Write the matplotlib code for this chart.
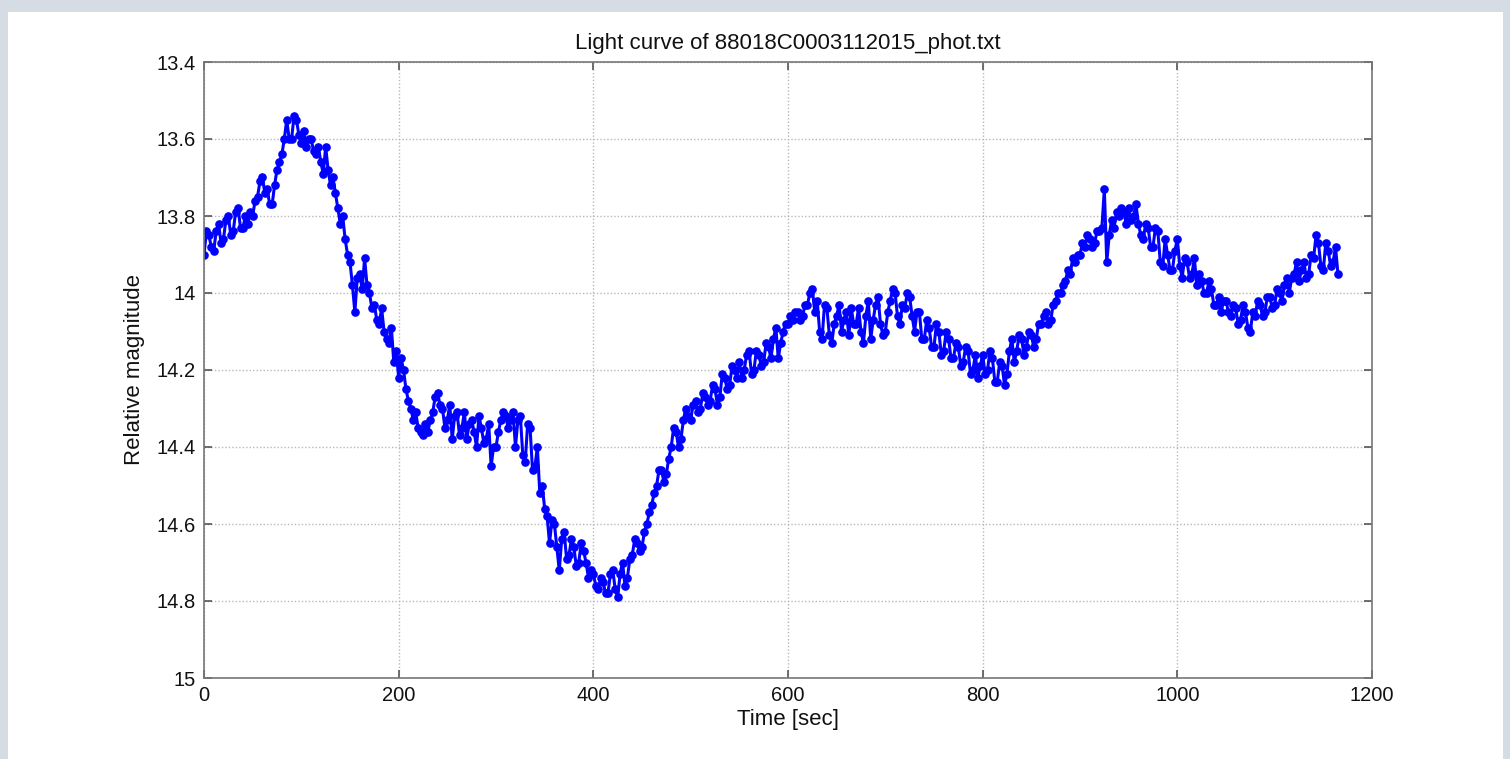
import matplotlib
matplotlib.use("Agg")
import matplotlib.pyplot as plt
from matplotlib.patches import Rectangle
from matplotlib.ticker import FuncFormatter

# Relative magnitude, sampled every 2.5 seconds starting at t = 0
magnitude = [
    13.90, 13.84, 13.85, 13.88, 13.89, 13.84, 13.82, 13.87, 13.86, 13.81, 13.80, 13.85, 13.84, 13.79, 13.78, 13.83, 13.83, 13.80, 13.82, 13.79,
    13.80, 13.76, 13.75, 13.71, 13.70, 13.74, 13.73, 13.77, 13.77, 13.72, 13.68, 13.66, 13.64, 13.60, 13.55, 13.60, 13.60, 13.54, 13.55, 13.59,
    13.61, 13.58, 13.62, 13.60, 13.60, 13.63, 13.64, 13.62, 13.66, 13.69, 13.62, 13.68, 13.72, 13.70, 13.74, 13.78, 13.82, 13.80, 13.86, 13.90,
    13.92, 13.98, 14.05, 13.96, 13.95, 13.99, 13.91, 13.98, 14.00, 14.04, 14.03, 14.07, 14.08, 14.04, 14.10, 14.12, 14.13, 14.09, 14.18, 14.15,
    14.22, 14.17, 14.20, 14.25, 14.28, 14.30, 14.33, 14.31, 14.35, 14.36, 14.37, 14.34, 14.36, 14.33, 14.31, 14.27, 14.26, 14.29, 14.30, 14.35,
    14.33, 14.29, 14.38, 14.32, 14.31, 14.37, 14.35, 14.31, 14.38, 14.34, 14.33, 14.36, 14.40, 14.32, 14.35, 14.39, 14.38, 14.34, 14.45, 14.40,
    14.40, 14.36, 14.33, 14.31, 14.32, 14.35, 14.33, 14.31, 14.40, 14.33, 14.32, 14.42, 14.44, 14.34, 14.35, 14.46, 14.45, 14.40, 14.52, 14.50,
    14.56, 14.58, 14.65, 14.59, 14.60, 14.66, 14.72, 14.64, 14.62, 14.69, 14.68, 14.64, 14.66, 14.71, 14.70, 14.65, 14.67, 14.70, 14.74, 14.72,
    14.73, 14.76, 14.77, 14.74, 14.75, 14.78, 14.78, 14.73, 14.72, 14.77, 14.79, 14.73, 14.70, 14.76, 14.74, 14.69, 14.68, 14.64, 14.65, 14.67,
    14.66, 14.62, 14.60, 14.57, 14.55, 14.52, 14.50, 14.46, 14.46, 14.49, 14.47, 14.43, 14.40, 14.35, 14.36, 14.40, 14.38, 14.33, 14.30, 14.32,
    14.33, 14.29, 14.28, 14.31, 14.30, 14.26, 14.27, 14.29, 14.28, 14.24, 14.25, 14.29, 14.27, 14.21, 14.22, 14.25, 14.24, 14.19, 14.20, 14.22,
    14.18, 14.22, 14.20, 14.16, 14.15, 14.21, 14.20, 14.15, 14.16, 14.19, 14.18, 14.13, 14.14, 14.17, 14.12, 14.09, 14.17, 14.13, 14.10, 14.08,
    14.08, 14.06, 14.07, 14.05, 14.05, 14.07, 14.06, 14.03, 14.03, 14.00, 13.99, 14.05, 14.02, 14.10, 14.12, 14.03, 14.04, 14.11, 14.13, 14.08,
    14.06, 14.03, 14.10, 14.07, 14.05, 14.11, 14.04, 14.08, 14.08, 14.04, 14.10, 14.13, 14.06, 14.02, 14.12, 14.07, 14.03, 14.01, 14.08, 14.11,
    14.10, 14.05, 14.02, 13.99, 14.00, 14.06, 14.08, 14.03, 14.04, 14.00, 14.01, 14.06, 14.10, 14.05, 14.05, 14.12, 14.12, 14.07, 14.09, 14.14,
    14.14, 14.08, 14.10, 14.16, 14.15, 14.10, 14.12, 14.17, 14.17, 14.13, 14.14, 14.19, 14.18, 14.14, 14.15, 14.21, 14.20, 14.16, 14.22, 14.19,
    14.16, 14.21, 14.20, 14.15, 14.17, 14.23, 14.23, 14.18, 14.19, 14.24, 14.21, 14.15, 14.12, 14.18, 14.15, 14.11, 14.12, 14.16, 14.14, 14.10,
    14.11, 14.14, 14.12, 14.08, 14.08, 14.06, 14.05, 14.08, 14.07, 14.03, 14.02, 14.00, 14.00, 13.98, 13.97, 13.94, 13.95, 13.91, 13.92, 13.90,
    13.90, 13.87, 13.88, 13.85, 13.86, 13.88, 13.87, 13.84, 13.84, 13.83, 13.73, 13.92, 13.85, 13.81, 13.83, 13.79, 13.80, 13.78, 13.79, 13.82,
    13.78, 13.81, 13.80, 13.77, 13.82, 13.85, 13.86, 13.82, 13.83, 13.88, 13.88, 13.83, 13.84, 13.92, 13.93, 13.86, 13.90, 13.94, 13.94, 13.89,
    13.86, 13.93, 13.96, 13.91, 13.92, 13.96, 13.95, 13.91, 13.98, 13.95, 13.97, 14.00, 14.00, 13.97, 13.99, 14.03, 14.03, 14.01, 14.05, 14.02,
    14.02, 14.05, 14.06, 14.03, 14.04, 14.08, 14.07, 14.03, 14.05, 14.09, 14.10, 14.05, 14.06, 14.02, 14.03, 14.06, 14.05, 14.01, 14.01, 14.04,
    14.03, 13.99, 14.00, 14.02, 13.98, 13.96, 14.00, 13.96, 13.95, 13.92, 13.97, 13.94, 13.92, 13.96, 13.95, 13.90, 13.91, 13.85, 13.87, 13.93,
    13.94, 13.87, 13.89, 13.93, 13.92, 13.88, 13.95,
]
sample_step_sec = 2.5
time_sec = [i * sample_step_sec for i in range(len(magnitude))]

x_ticks = [0, 200, 400, 600, 800, 1000, 1200]
y_ticks = [13.4, 13.6, 13.8, 14.0, 14.2, 14.4, 14.6, 14.8, 15.0]

plt.rcParams['font.family'] = ['Liberation Sans', 'DejaVu Sans']

fig = plt.figure(figsize=(15.10, 7.59), dpi=100)
fig.patch.set_facecolor('#d5dce4')
bg = fig.add_axes([0, 0, 1, 1], zorder=-10)
bg.axis('off')
bg.set_xlim(0, 1510)
bg.set_ylim(759, 0)
bg.add_patch(Rectangle((8, 12), 1495, 760, facecolor='white', edgecolor='none'))

ax = fig.add_axes([204 / 1510, 1 - 678 / 759, (1372 - 204) / 1510, (678 - 62) / 759])
ax.plot(time_sec, magnitude, color='#0000ff', linewidth=2.2, marker='o',
        markersize=5.2, markerfacecolor='#0000ff', markeredgecolor='#0000ff')

ax.set_xlim(0, 1200)
ax.set_ylim(15, 13.4)
ax.set_xticks(x_ticks)
ax.set_yticks(y_ticks)
ax.yaxis.set_major_formatter(FuncFormatter(lambda v, p: '%g' % round(v, 2)))
ax.grid(True, color='#b8b8b8', linestyle=(0, (1, 1.5)), linewidth=1.0)
ax.tick_params(direction='in', length=6, width=1.2, color='#555555', top=True,
               right=True, labelsize=14.5, pad=6, labelcolor='#111111')
for s in ax.spines.values():
    s.set_color('#777777')
    s.set_linewidth(1.2)

ax.set_title('Light curve of 88018C0003112015_phot.txt', fontsize=16, pad=9,
             color='#111111')
ax.set_xlabel('Time [sec]', fontsize=16, labelpad=3, color='#111111')
ax.set_ylabel('Relative magnitude', fontsize=16, labelpad=8, color='#111111')

fig.savefig('out.png', dpi=100, facecolor=fig.get_facecolor())
